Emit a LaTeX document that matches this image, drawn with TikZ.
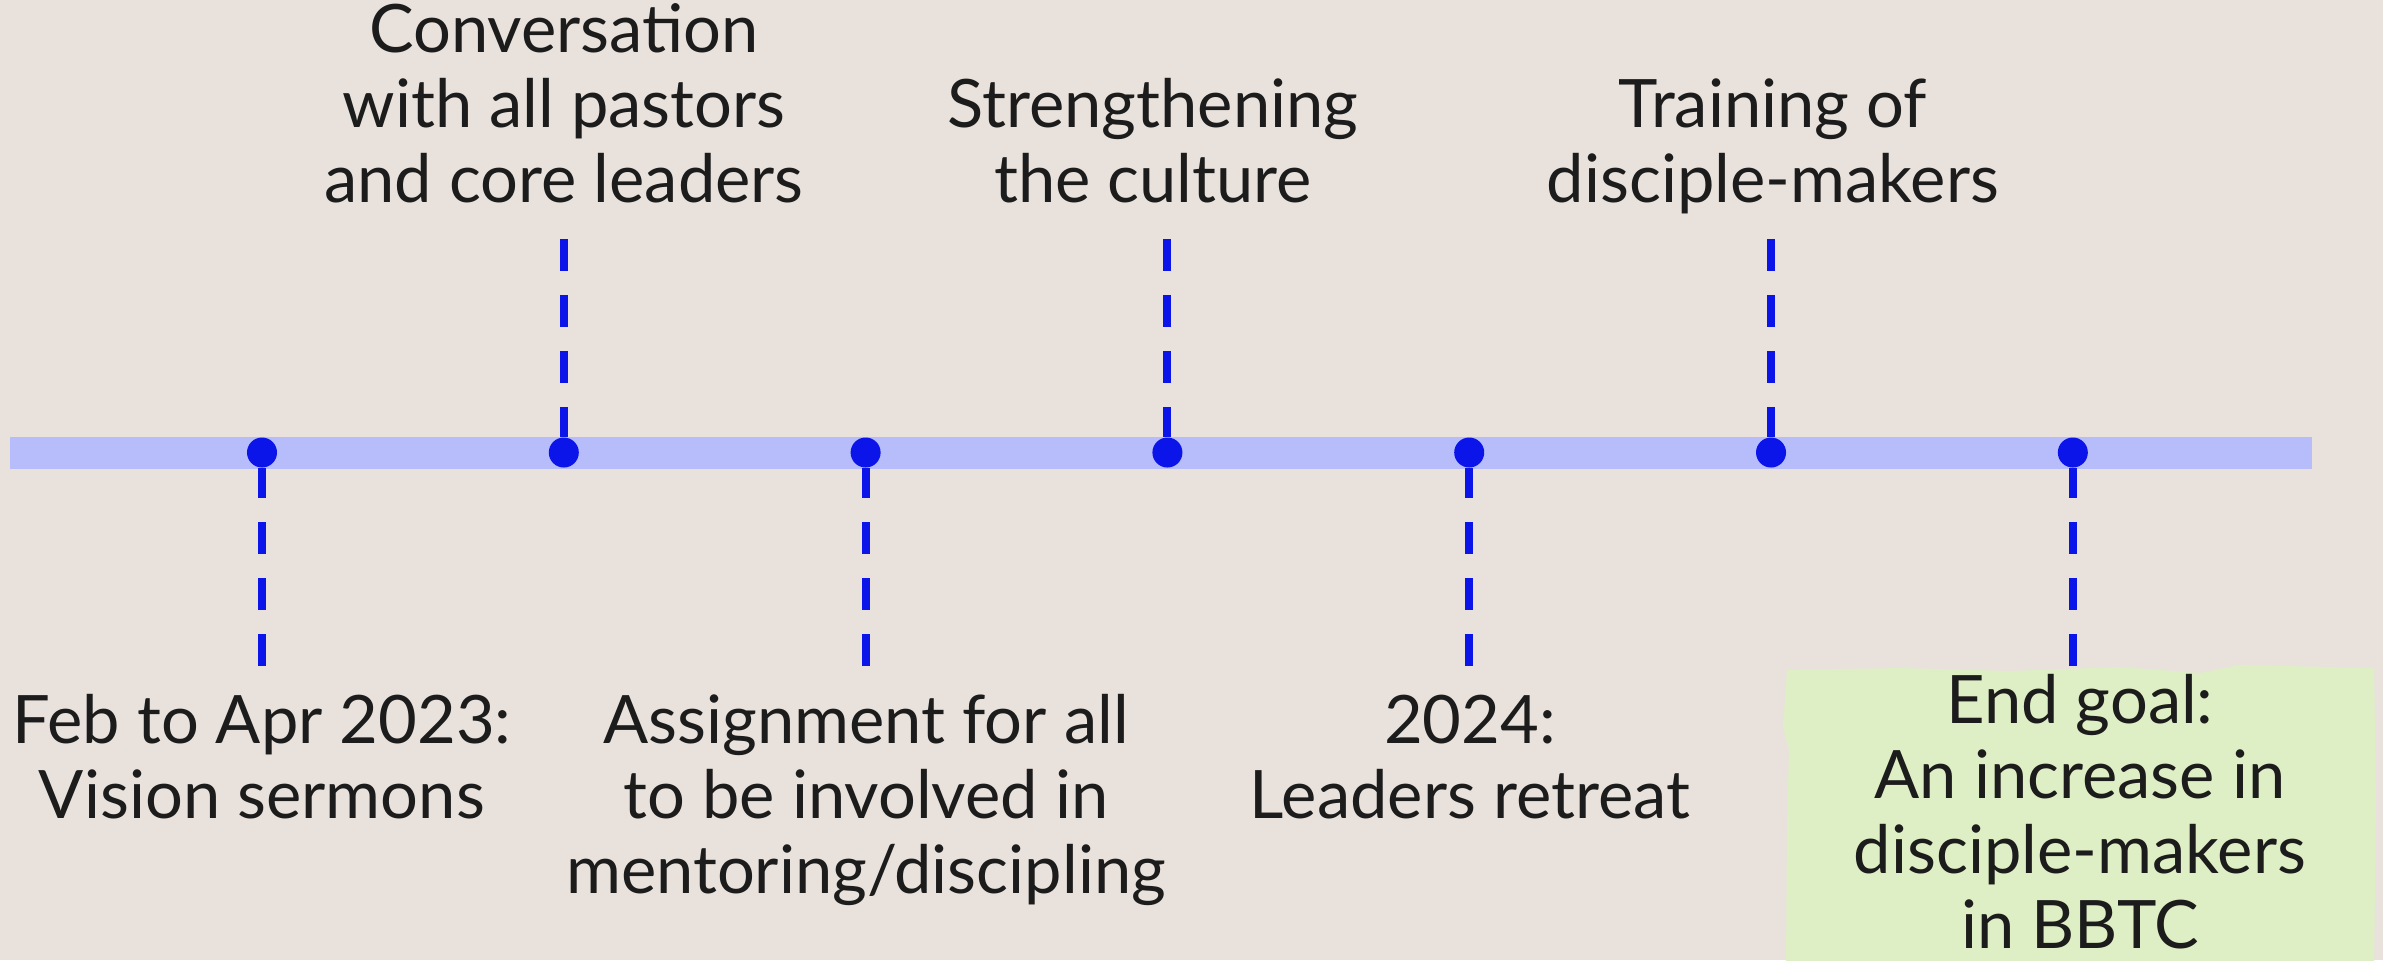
\documentclass[tikz,border=0pt]{standalone}
\usepackage{fontspec}
\setmainfont{Lato}
\definecolor{paper}{HTML}{E9E2DC}
\definecolor{barblue}{HTML}{B7BCFB}
\definecolor{dotblue}{HTML}{0B15E9}
\definecolor{goalgreen}{HTML}{DFEFC5}
\definecolor{ink}{HTML}{1C1C1C}
\tikzset{
    milestone/.style={circle, fill=dotblue, inner sep=0pt, minimum size=0.3cm},
    stem/.style={draw=dotblue, line width=0.08cm, dash pattern=on 0.32cm off 0.24cm},
    lbl/.style={align=center, inner sep=0pt, text=ink, font=\fontsize{19}{21.34}\selectfont},
}
\begin{document}
\begin{tikzpicture}[x=0.01cm, y=-0.01cm]
    \fill[paper] (0,0) rectangle (2383,960);
    \useasboundingbox (0,0) rectangle (2383,960);
    \fill[goalgreen] (1787,670) -- (1900,668) -- (2010,671) -- (2120,667) -- (2200,673)
        -- (2240,665) -- (2374,668) -- (2376,800) -- (2374,965) -- (1786,965)
        -- (1787,820) -- (1789,750) -- (1783,727) -- cycle;
    \fill[barblue] (10,437) rectangle (2312,469);
    \foreach \i in {1,...,7} {
        \node[milestone] (d\i) at ({262+301.8*(\i-1)}, 452.5) {};
    };
    \foreach \i in {2,4,6} {
        \coordinate (t\i) at ({262+301.8*(\i-1)}, 239);
        \draw[stem] (t\i) -- (d\i);
    };
    \foreach \i in {1,3,5,7} {
        \coordinate (b\i) at ({262+301.8*(\i-1)}, 666);
        \draw[stem] (b\i) -- (d\i);
    };
\node[lbl, anchor=south] (conv) at (564, 225.5) {\strut Conversation\\with all pastors\\and core leaders\strut};
\node[lbl, anchor=south] (cult) at (1153, 225.5) {\strut Strengthening\\the culture\strut};
\node[lbl, anchor=south] (train) at (1773, 225.5) {\strut Training of\\disciple-makers\strut};
\node[lbl, anchor=north] (vision) at (262, 690.5) {\strut Feb to Apr 2023:\\Vision sermons\strut};
\node[lbl, anchor=north] (assign) at (866, 690.5) {\strut Assignment for all\\to be involved in\\mentoring/discipling\strut};
\node[lbl, anchor=north] (retreat) at (1470, 690.5) {\strut 2024:\\Leaders retreat\strut};
\node[lbl, anchor=north] (goal) at (2080, 670.5) {\strut End goal:\\An increase in\\disciple-makers\\in BBTC\strut};
\end{tikzpicture}
\end{document}
